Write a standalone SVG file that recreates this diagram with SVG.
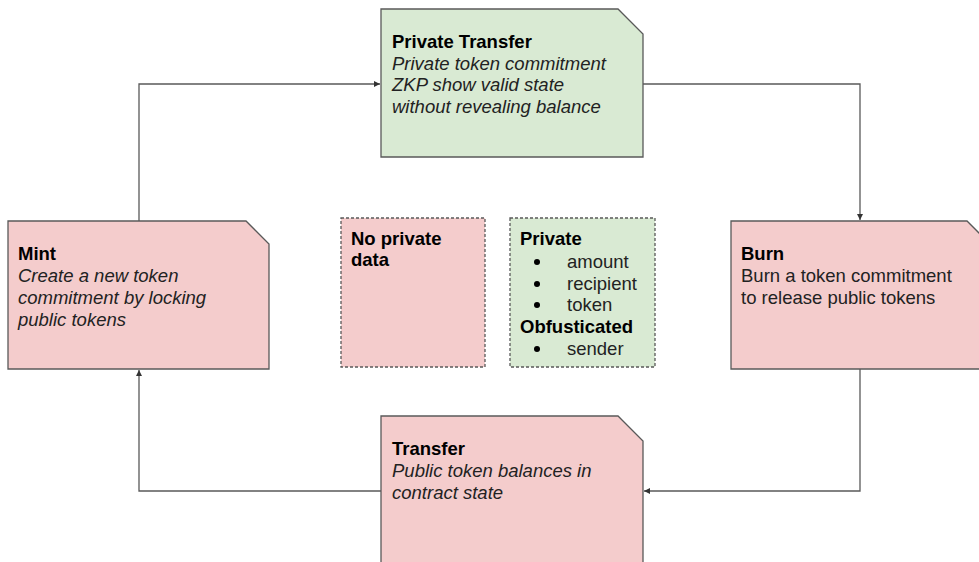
<svg xmlns="http://www.w3.org/2000/svg" width="979" height="562" viewBox="0 0 979 562">
<defs>
<style>
.pink{fill:#f4cccc;stroke:#595959;stroke-width:1.3}
.green{fill:#d9ead3;stroke:#595959;stroke-width:1.3}
.dash{stroke-dasharray:3 2}
text{font-family:"Liberation Sans",Arial,sans-serif;font-size:18.5px;fill:#000}
.b{font-weight:bold}
.i{font-style:italic;fill:#222}
.n{fill:#222}
.conn{fill:none;stroke:#595959;stroke-width:1.3}
</style>
<marker id="arr" markerWidth="8" markerHeight="8" refX="6" refY="3" orient="auto" markerUnits="userSpaceOnUse">
<path d="M0,0 L6,3 L0,6 Z" fill="#333"/>
</marker>
</defs>
<rect width="979" height="562" fill="#fff"/>
<g id="connectors">
<path class="conn" d="M139,221 V84 H380" marker-end="url(#arr)"/>
<path class="conn" d="M643,84 H860 V220" marker-end="url(#arr)"/>
<path class="conn" d="M860,369 V491 H644" marker-end="url(#arr)"/>
<path class="conn" d="M381,491 H139 V370" marker-end="url(#arr)"/>
</g>
<g id="private-transfer">
<path class="green" d="M381,9 H618 L643,34 V157 H381 Z"/>
<text class="b" x="392" y="48">Private Transfer</text>
<text class="i" x="392" y="70">Private token commitment</text>
<text class="i" x="392" y="91">ZKP show valid state</text>
<text class="i" x="392" y="113">without revealing balance</text>
</g>
<g id="mint">
<path class="pink" d="M8,221 H246 L269,244 V369 H8 Z"/>
<text class="b" x="18" y="260">Mint</text>
<text class="i" x="18" y="282">Create a new token</text>
<text class="i" x="18" y="304">commitment by locking</text>
<text class="i" x="18" y="326">public tokens</text>
</g>
<g id="burn">
<path class="pink" d="M731,221 H967 L992,246 V369 H731 Z"/>
<text class="b" x="741" y="260">Burn</text>
<text class="n" x="741" y="282">Burn a token commitment</text>
<text class="n" x="741" y="304">to release public tokens</text>
</g>
<g id="transfer">
<path class="pink" d="M381,416 H618 L643,441 V575 H381 Z"/>
<text class="b" x="392" y="455">Transfer</text>
<text class="i" x="392" y="477">Public token balances in</text>
<text class="i" x="392" y="499">contract state</text>
</g>
<g id="no-private-data">
<rect class="pink dash" x="341" y="218" width="144" height="149"/>
<text class="b" x="351" y="245">No private</text>
<text class="b" x="351" y="266">data</text>
</g>
<g id="private-list">
<rect class="green dash" x="510" y="218" width="145" height="149"/>
<text class="b" x="520" y="245">Private</text>
<circle cx="537" cy="262" r="3" fill="#000"/>
<text class="n" x="567" y="268">amount</text>
<circle cx="537" cy="284" r="3" fill="#000"/>
<text class="n" x="567" y="290">recipient</text>
<circle cx="537" cy="305" r="3" fill="#000"/>
<text class="n" x="567" y="311">token</text>
<text class="b" x="520" y="333">Obfusticated</text>
<circle cx="537" cy="349" r="3" fill="#000"/>
<text class="n" x="567" y="355">sender</text>
</g>
</svg>
